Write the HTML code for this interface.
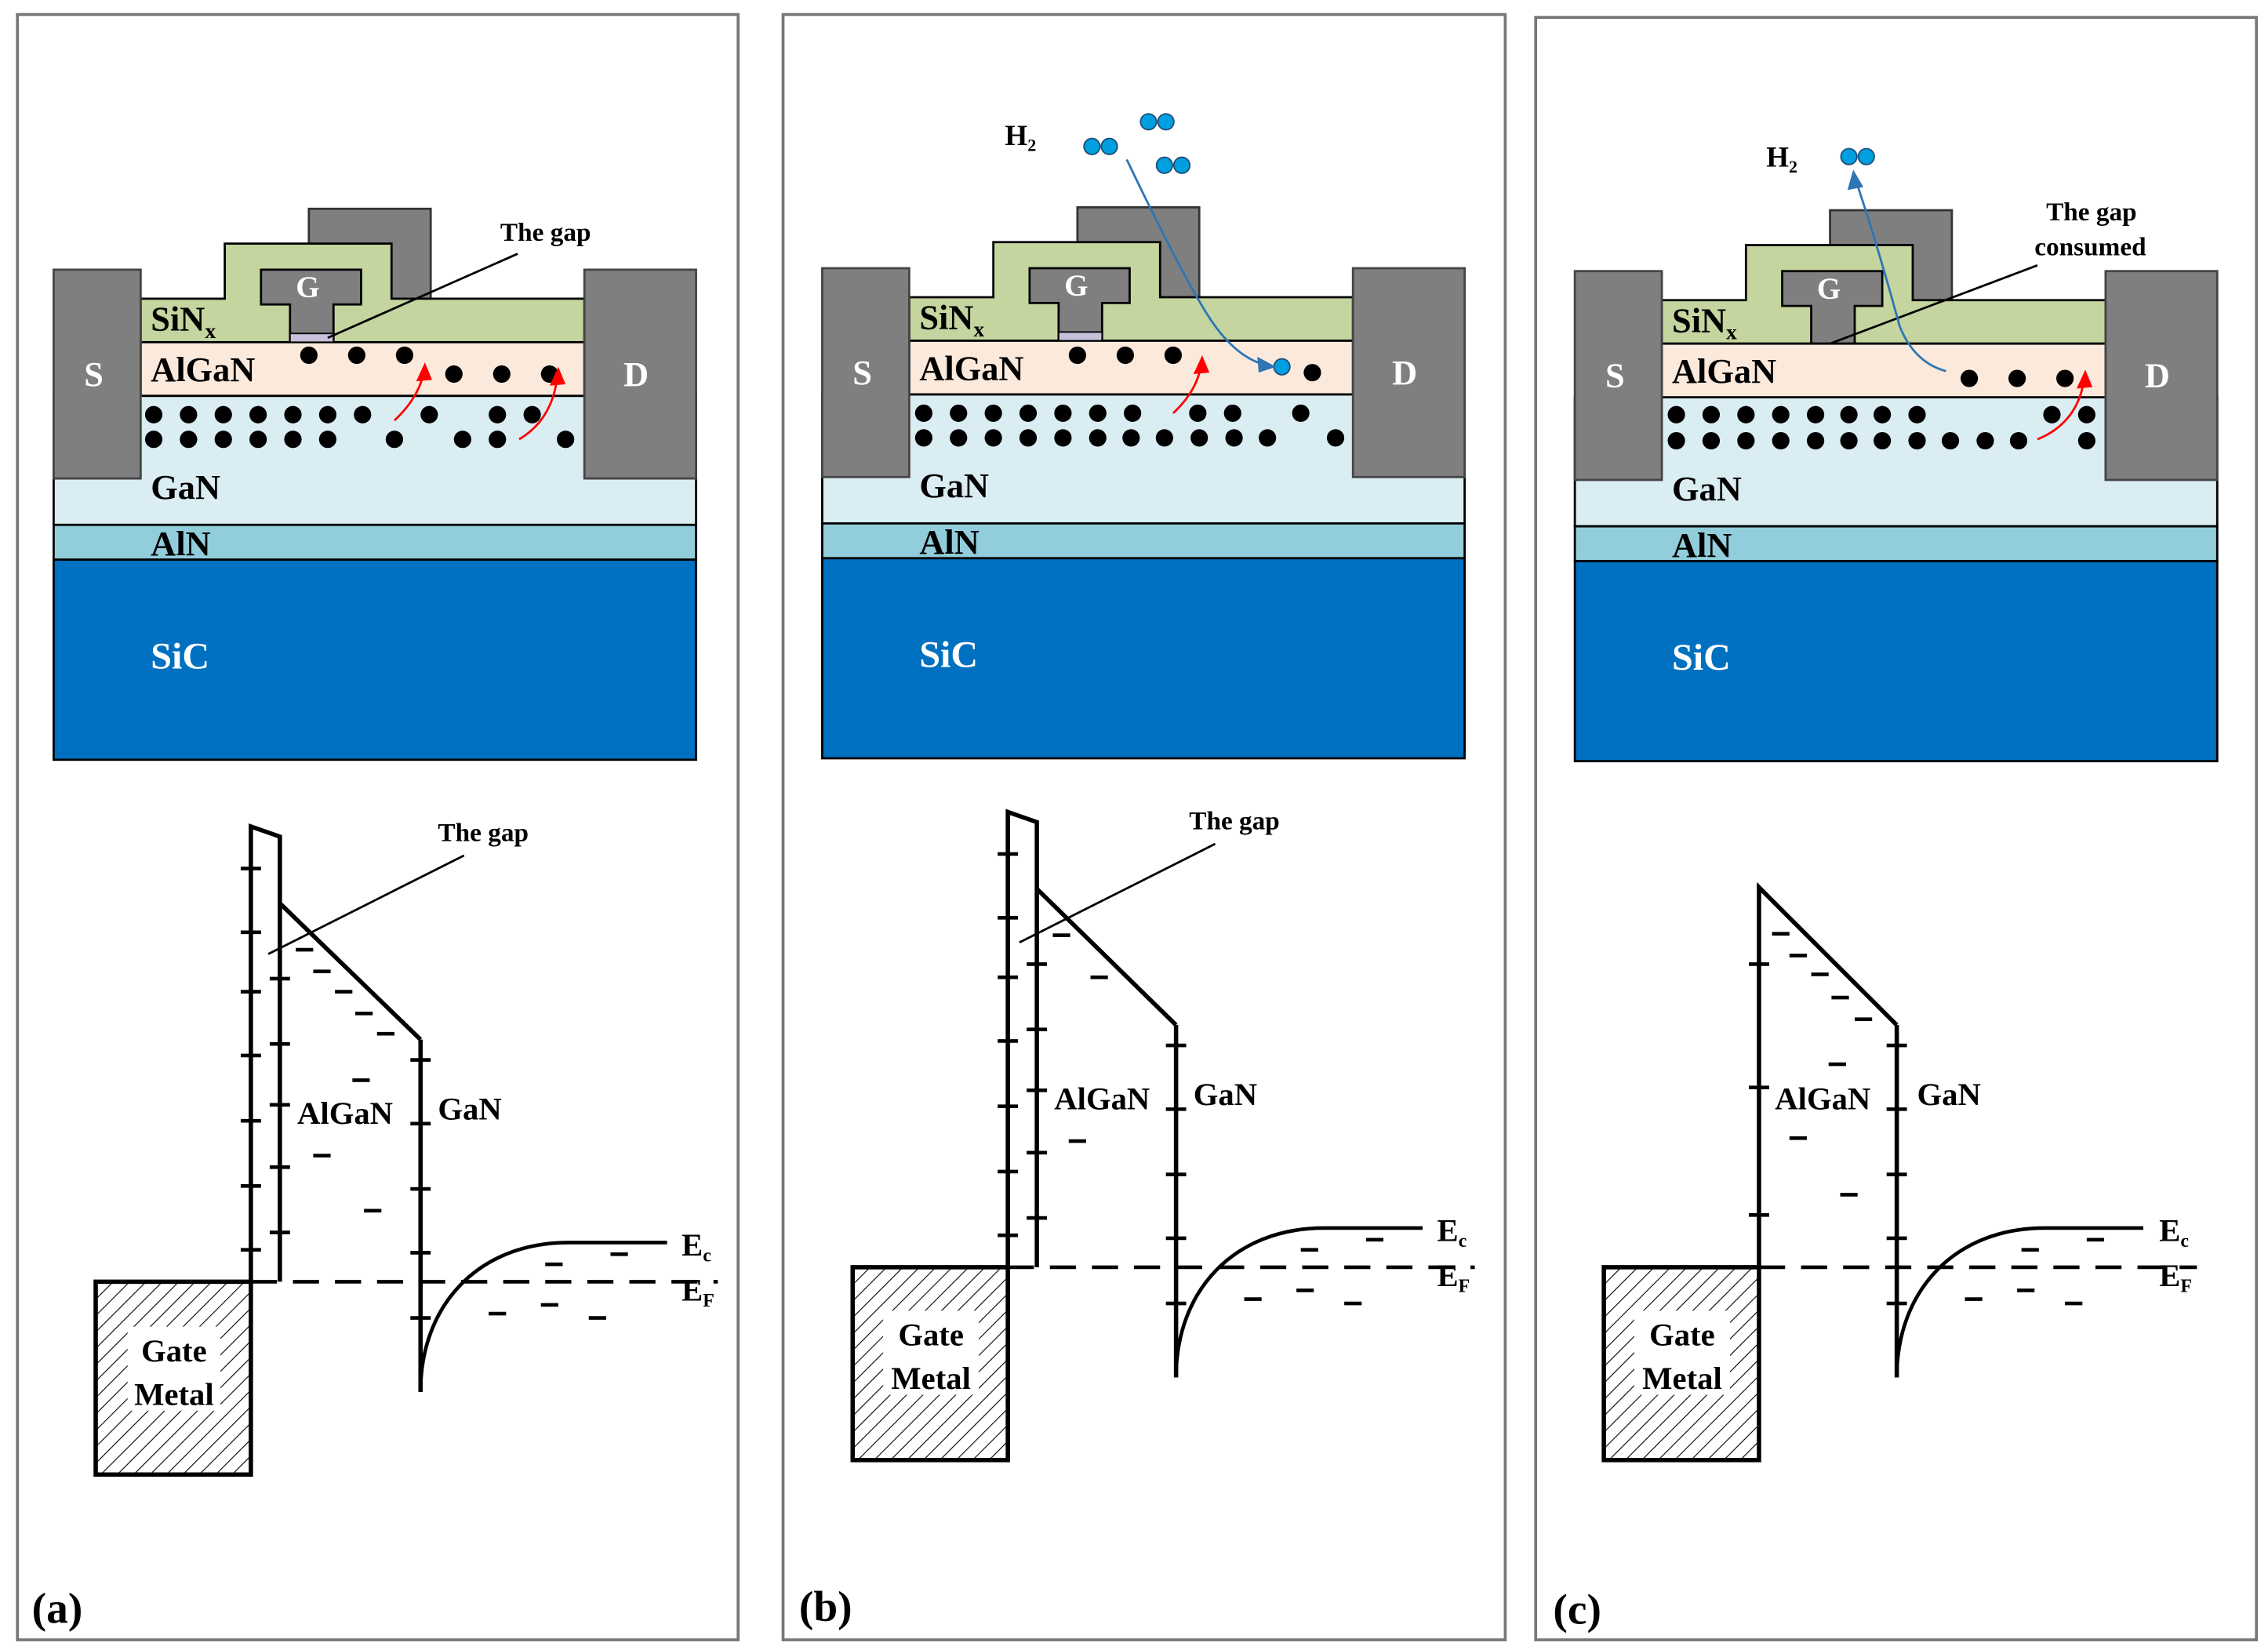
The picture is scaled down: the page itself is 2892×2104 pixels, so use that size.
<!DOCTYPE html>
<html><head><meta charset="utf-8"><style>
html,body{margin:0;padding:0;background:#fff}
svg{display:block}
</style></head><body>
<svg width="2892" height="2104" viewBox="0 0 1564 1138" preserveAspectRatio="none" xmlns="http://www.w3.org/2000/svg" font-family="'Liberation Serif','DejaVu Serif',serif" font-weight="bold">
<defs>
<pattern id="hat" patternUnits="userSpaceOnUse" width="8" height="8" patternTransform="rotate(45)">
<line x1="0" y1="0" x2="0" y2="8" stroke="#000" stroke-width="1.2"/>
</pattern>
<g id="dev">
<rect x="37" y="273" width="443" height="89" fill="#daedf3" stroke="#000" stroke-width="1.5"/>
<rect x="37" y="362" width="443" height="24" fill="#92cddb" stroke="#000" stroke-width="1.5"/>
<rect x="37" y="386" width="443" height="138" fill="#0070c0" stroke="#000" stroke-width="1.5"/>
<rect x="213" y="144" width="84" height="70" fill="#7f7f7f" stroke="#333" stroke-width="1.5"/>
<path d="M97,206 H155 V168 H270 V206 H403 V236 H97 Z" fill="#c4d59f" stroke="#000" stroke-width="1.5"/>
<path d="M180,186 H249 V210 H230 V236 H200 V210 H180 Z" fill="#7f7f7f" stroke="#000" stroke-width="1.5"/>
<rect x="97" y="236" width="306" height="37" fill="#fbe9dc" stroke="#000" stroke-width="1.5"/>
<rect x="37" y="186" width="60" height="144" fill="#7f7f7f" stroke="#444" stroke-width="1.5"/>
<rect x="403" y="186" width="77" height="144" fill="#7f7f7f" stroke="#444" stroke-width="1.5"/>
</g>
<g id="metal">
<rect x="66" y="884" width="107" height="133" fill="url(#hat)" stroke="#000" stroke-width="3"/>
</g>
<g id="gan">
<path d="M290,717 V960" fill="none" stroke="#000" stroke-width="3"/>
<path d="M290,960 C290,900 330,857 392,857 L460,857" fill="none" stroke="#000" stroke-width="2.5"/>
<g stroke="#000" stroke-width="2.5">
<line x1="283" y1="731" x2="297" y2="731"/><line x1="283" y1="775" x2="297" y2="775"/><line x1="283" y1="820" x2="297" y2="820"/><line x1="283" y1="864" x2="297" y2="864"/><line x1="283" y1="909" x2="297" y2="909"/>
<line x1="337" y1="906" x2="349" y2="906"/><line x1="373" y1="900" x2="385" y2="900"/><line x1="406" y1="909" x2="418" y2="909"/><line x1="376" y1="872" x2="388" y2="872"/><line x1="421" y1="865" x2="433" y2="865"/>
</g>
</g>
</defs>

<!-- frames -->
<rect x="12" y="10" width="497" height="1121" fill="none" stroke="#777" stroke-width="2"/>
<rect x="540" y="10" width="498" height="1121" fill="none" stroke="#777" stroke-width="2"/>
<rect x="1059" y="12" width="497" height="1119" fill="none" stroke="#777" stroke-width="2"/>

<!-- devices -->
<use href="#dev"/>
<use href="#dev" transform="translate(530,-1)"/>
<use href="#dev" transform="translate(1049,1)"/>
<rect x="200" y="230" width="30" height="6" fill="#c9c0dc" stroke="#000" stroke-width="1"/>
<rect x="730" y="229" width="30" height="6" fill="#c9c0dc" stroke="#000" stroke-width="1"/>

<g fill="#fff" font-size="24">
<text x="58" y="266">S</text><text x="430" y="266">D</text><text x="204" y="205" font-size="21">G</text>
<text x="588" y="265">S</text><text x="960" y="265">D</text><text x="734" y="204" font-size="21">G</text>
<text x="1107" y="267">S</text><text x="1479" y="267">D</text><text x="1253" y="206" font-size="21">G</text>
</g>
<g fill="#000" font-size="24">
<text x="104" y="228">SiN<tspan font-size="15" dy="5">x</tspan></text><text x="104" y="263">AlGaN</text><text x="104" y="344">GaN</text><text x="104" y="383">AlN</text>
<text x="634" y="227">SiN<tspan font-size="15" dy="5">x</tspan></text><text x="634" y="262">AlGaN</text><text x="634" y="343">GaN</text><text x="634" y="382">AlN</text>
<text x="1153" y="229">SiN<tspan font-size="15" dy="5">x</tspan></text><text x="1153" y="264">AlGaN</text><text x="1153" y="345">GaN</text><text x="1153" y="384">AlN</text>
</g>
<g fill="#fff" font-size="26"><text x="104" y="461">SiC</text><text x="634" y="460">SiC</text><text x="1153" y="462">SiC</text></g>

<text x="345" y="166" font-size="18">The gap</text>
<line x1="357" y1="175" x2="226" y2="233" stroke="#000" stroke-width="1.5"/>
<text x="1411" y="152" font-size="18">The gap</text>
<text x="1403" y="176" font-size="18">consumed</text>
<line x1="1405" y1="183" x2="1262" y2="237" stroke="#000" stroke-width="1.5"/>

<g fill="#000">
<circle cx="213" cy="245" r="6"/><circle cx="246" cy="245" r="6"/><circle cx="279" cy="245" r="6"/>
<circle cx="313" cy="258" r="6"/><circle cx="346" cy="258" r="6"/><circle cx="379" cy="258" r="6"/>
<circle cx="106" cy="286" r="6"/><circle cx="130" cy="286" r="6"/><circle cx="154" cy="286" r="6"/><circle cx="178" cy="286" r="6"/><circle cx="202" cy="286" r="6"/><circle cx="226" cy="286" r="6"/><circle cx="250" cy="286" r="6"/><circle cx="296" cy="286" r="6"/><circle cx="343" cy="286" r="6"/><circle cx="367" cy="286" r="6"/>
<circle cx="106" cy="303" r="6"/><circle cx="130" cy="303" r="6"/><circle cx="154" cy="303" r="6"/><circle cx="178" cy="303" r="6"/><circle cx="202" cy="303" r="6"/><circle cx="226" cy="303" r="6"/><circle cx="272" cy="303" r="6"/><circle cx="319" cy="303" r="6"/><circle cx="343" cy="303" r="6"/><circle cx="390" cy="303" r="6"/>
</g>
<g fill="#000">
<circle cx="743" cy="245" r="6"/><circle cx="776" cy="245" r="6"/><circle cx="809" cy="245" r="6"/><circle cx="905" cy="257" r="6"/>
<circle cx="637" cy="285" r="6"/><circle cx="661" cy="285" r="6"/><circle cx="685" cy="285" r="6"/><circle cx="709" cy="285" r="6"/><circle cx="733" cy="285" r="6"/><circle cx="757" cy="285" r="6"/><circle cx="781" cy="285" r="6"/><circle cx="826" cy="285" r="6"/><circle cx="850" cy="285" r="6"/><circle cx="897" cy="285" r="6"/>
<circle cx="637" cy="302" r="6"/><circle cx="661" cy="302" r="6"/><circle cx="685" cy="302" r="6"/><circle cx="709" cy="302" r="6"/><circle cx="733" cy="302" r="6"/><circle cx="757" cy="302" r="6"/><circle cx="780" cy="302" r="6"/><circle cx="803" cy="302" r="6"/><circle cx="827" cy="302" r="6"/><circle cx="851" cy="302" r="6"/><circle cx="874" cy="302" r="6"/><circle cx="921" cy="302" r="6"/>
</g>
<g fill="#000">
<circle cx="1358" cy="261" r="6"/><circle cx="1391" cy="261" r="6"/><circle cx="1424" cy="261" r="6"/>
<circle cx="1156" cy="286" r="6"/><circle cx="1180" cy="286" r="6"/><circle cx="1204" cy="286" r="6"/><circle cx="1228" cy="286" r="6"/><circle cx="1252" cy="286" r="6"/><circle cx="1275" cy="286" r="6"/><circle cx="1298" cy="286" r="6"/><circle cx="1322" cy="286" r="6"/><circle cx="1415" cy="286" r="6"/><circle cx="1439" cy="286" r="6"/>
<circle cx="1156" cy="304" r="6"/><circle cx="1180" cy="304" r="6"/><circle cx="1204" cy="304" r="6"/><circle cx="1228" cy="304" r="6"/><circle cx="1252" cy="304" r="6"/><circle cx="1275" cy="304" r="6"/><circle cx="1298" cy="304" r="6"/><circle cx="1322" cy="304" r="6"/><circle cx="1345" cy="304" r="6"/><circle cx="1369" cy="304" r="6"/><circle cx="1392" cy="304" r="6"/><circle cx="1439" cy="304" r="6"/>
</g>

<g fill="none" stroke="#f00" stroke-width="1.5">
<path d="M272,290 Q288,275 292,258"/><path d="M358,303 Q380,290 384,262"/>
<path d="M809,285 Q825,270 828,253"/><path d="M1405,303 Q1432,292 1437,263"/>
</g>
<g fill="#f00">
<polygon points="293,250 287,263 298,262"/><polygon points="385,253 379,266 390,265"/>
<polygon points="829,245 823,258 834,257"/><polygon points="1438,255 1432,268 1443,267"/>
</g>

<text x="693" y="100" font-size="20">H<tspan font-size="12" dy="4">2</tspan></text>
<text x="1218" y="115" font-size="20">H<tspan font-size="12" dy="4">2</tspan></text>
<g fill="#00a0e0" stroke="#1f4e79" stroke-width="1">
<circle cx="753" cy="101" r="5.5"/><circle cx="765" cy="101" r="5.5"/>
<circle cx="792" cy="84" r="5.5"/><circle cx="804" cy="84" r="5.5"/>
<circle cx="803" cy="114" r="5.5"/><circle cx="815" cy="114" r="5.5"/>
<circle cx="884" cy="253" r="5.5"/>
<circle cx="1275" cy="108" r="5.5"/><circle cx="1287" cy="108" r="5.5"/>
</g>
<g fill="none" stroke="#2e75b6" stroke-width="1.5">
<path d="M777,110 Q820,200 838,225 Q855,248 874,252"/>
<path d="M1342,256 Q1320,250 1310,225 Q1295,170 1280,125"/>
</g>
<g fill="#2e75b6">
<polygon points="880,253 867,246 868,257"/>
<polygon points="1278,117 1274,131 1285,129"/>
</g>

<!-- band diagrams -->
<use href="#metal"/>
<use href="#metal" transform="translate(522,-10)"/>
<use href="#metal" transform="translate(1040,-10)"/>
<use href="#gan"/>
<use href="#gan" transform="translate(521,-10)"/>
<use href="#gan" transform="translate(1018,-10)"/>
<g stroke="#000" stroke-width="2.5" stroke-dasharray="18 11">
<line x1="173" y1="884" x2="495" y2="884"/>
<line x1="695" y1="874" x2="1017" y2="874"/>
<line x1="1213" y1="874" x2="1515" y2="874"/>
</g>

<g fill="none" stroke="#000" stroke-width="3">
<path d="M173,884 V570 L193,577 V884"/><path d="M193,623 L290,717"/>
<path d="M695,874 V560 L715,567 V874"/><path d="M715,613 L811,707"/>
<path d="M1213,874 V612 L1308,707"/>
</g>
<g stroke="#000" stroke-width="2.5">
<line x1="166" y1="599" x2="180" y2="599"/><line x1="166" y1="643" x2="180" y2="643"/><line x1="166" y1="684" x2="180" y2="684"/><line x1="166" y1="728" x2="180" y2="728"/><line x1="166" y1="773" x2="180" y2="773"/><line x1="166" y1="818" x2="180" y2="818"/><line x1="166" y1="862" x2="180" y2="862"/>
<line x1="186" y1="675" x2="200" y2="675"/><line x1="186" y1="720" x2="200" y2="720"/><line x1="186" y1="762" x2="200" y2="762"/><line x1="186" y1="805" x2="200" y2="805"/><line x1="186" y1="850" x2="200" y2="850"/>
<line x1="204" y1="655" x2="216" y2="655"/><line x1="216" y1="670" x2="228" y2="670"/><line x1="231" y1="684" x2="243" y2="684"/><line x1="245" y1="699" x2="257" y2="699"/><line x1="260" y1="713" x2="272" y2="713"/><line x1="243" y1="745" x2="255" y2="745"/><line x1="216" y1="797" x2="228" y2="797"/><line x1="251" y1="835" x2="263" y2="835"/>
<line x1="688" y1="589" x2="702" y2="589"/><line x1="688" y1="633" x2="702" y2="633"/><line x1="688" y1="674" x2="702" y2="674"/><line x1="688" y1="718" x2="702" y2="718"/><line x1="688" y1="763" x2="702" y2="763"/><line x1="688" y1="808" x2="702" y2="808"/><line x1="688" y1="852" x2="702" y2="852"/>
<line x1="708" y1="665" x2="722" y2="665"/><line x1="708" y1="710" x2="722" y2="710"/><line x1="708" y1="752" x2="722" y2="752"/><line x1="708" y1="795" x2="722" y2="795"/><line x1="708" y1="840" x2="722" y2="840"/>
<line x1="726" y1="645" x2="738" y2="645"/><line x1="752" y1="674" x2="764" y2="674"/><line x1="737" y1="787" x2="749" y2="787"/>
<line x1="1206" y1="665" x2="1220" y2="665"/><line x1="1206" y1="750" x2="1220" y2="750"/><line x1="1206" y1="838" x2="1220" y2="838"/>
<line x1="1222" y1="644" x2="1234" y2="644"/><line x1="1234" y1="659" x2="1246" y2="659"/><line x1="1249" y1="672" x2="1261" y2="672"/><line x1="1263" y1="688" x2="1275" y2="688"/><line x1="1279" y1="703" x2="1291" y2="703"/><line x1="1261" y1="734" x2="1273" y2="734"/><line x1="1234" y1="785" x2="1246" y2="785"/><line x1="1269" y1="824" x2="1281" y2="824"/>
</g>

<g font-size="22" fill="#000">
<text x="205" y="775">AlGaN</text><text x="302" y="772">GaN</text>
<text x="727" y="765">AlGaN</text><text x="823" y="762">GaN</text>
<text x="1224" y="765">AlGaN</text><text x="1322" y="762">GaN</text>
<text x="470" y="866">E<tspan font-size="13" dy="4">c</tspan></text><text x="470" y="897">E<tspan font-size="13" dy="4">F</tspan></text>
<text x="991" y="856">E<tspan font-size="13" dy="4">c</tspan></text><text x="991" y="887">E<tspan font-size="13" dy="4">F</tspan></text>
<text x="1489" y="856">E<tspan font-size="13" dy="4">c</tspan></text><text x="1489" y="887">E<tspan font-size="13" dy="4">F</tspan></text>
</g>
<g font-size="22" fill="#000" text-anchor="middle">
<rect x="88" y="915" width="64" height="58" fill="#fff"/>
<text x="120" y="939">Gate</text><text x="120" y="969">Metal</text>
<rect x="609" y="904" width="66" height="58" fill="#fff"/>
<text x="642" y="928">Gate</text><text x="642" y="958">Metal</text>
<rect x="1127" y="904" width="66" height="58" fill="#fff"/>
<text x="1160" y="928">Gate</text><text x="1160" y="958">Metal</text>
</g>
<g font-size="18" fill="#000">
<text x="302" y="580">The gap</text><text x="820" y="572">The gap</text>
</g>
<line x1="320" y1="590" x2="185" y2="658" stroke="#000" stroke-width="1.5"/>
<line x1="838" y1="582" x2="703" y2="650" stroke="#000" stroke-width="1.5"/>

<g font-size="30" fill="#000">
<text x="22" y="1119">(a)</text><text x="551" y="1118">(b)</text><text x="1071" y="1120">(c)</text>
</g>
</svg>
</body></html>
